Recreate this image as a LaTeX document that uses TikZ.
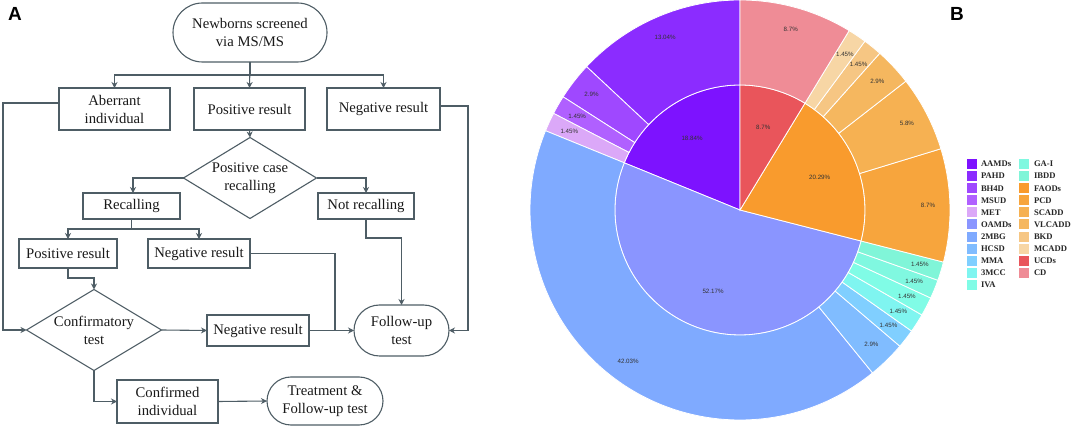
\documentclass[tikz,border=0pt]{standalone}
\usepackage{fontspec}
\setmainfont{Liberation Serif}
\newfontfamily\lsans{Liberation Sans}
\usetikzlibrary{shapes.geometric,shapes.misc,arrows.meta,calc}

\definecolor{ln}{HTML}{4E5D65}
\definecolor{cAAMD}{HTML}{7D12FF}
\definecolor{cPAHD}{HTML}{8B2CFF}
\definecolor{cBHD}{HTML}{9F48FF}
\definecolor{cMSUD}{HTML}{B060FF}
\definecolor{cMET}{HTML}{DBA8F8}
\definecolor{cOAMD}{HTML}{8A95FF}
\definecolor{cTMBG}{HTML}{7FAAFF}
\definecolor{cHCSD}{HTML}{80BCFF}
\definecolor{cMMA}{HTML}{80CFFF}
\definecolor{cTMCC}{HTML}{7FF5F0}
\definecolor{cIVA}{HTML}{80FCE6}
\definecolor{cGAI}{HTML}{80F8E0}
\definecolor{cIBDD}{HTML}{80F5D8}
\definecolor{cFAOD}{HTML}{F99B2D}
\definecolor{cPCD}{HTML}{F7A53D}
\definecolor{cSCADD}{HTML}{F6B152}
\definecolor{cVLCADD}{HTML}{F5B75F}
\definecolor{cBKD}{HTML}{F6C683}
\definecolor{cMCADD}{HTML}{F7D6A5}
\definecolor{cUCD}{HTML}{E9555B}
\definecolor{cCD}{HTML}{EF8C96}

\begin{document}
\begin{tikzpicture}[x=1pt,y=-1pt,
  every node/.style={inner sep=0pt, outer sep=0pt},
  fc/.style={draw=ln, line width=1.1pt, font=\fontsize{14.7}{18}\selectfont, align=center, text=black!90},
  box/.style={fc, rectangle},
  term/.style={fc, rounded rectangle},
  dec/.style={draw=ln, line width=1.1pt, diamond},
  dectext/.style={font=\fontsize{14.7}{18}\selectfont, align=center, text=black!90},
  conn/.style={draw=ln, line width=1.1pt},
  arr/.style={conn, -{Stealth[length=6pt,width=6pt]}},
  pct/.style={font=\lsans\fontsize{6.2}{7}\selectfont, text=black!80},
  leg/.style={font=\bfseries\fontsize{8.6}{10}\selectfont, anchor=west, text=black!85},
  sw/.style={minimum width=10, minimum height=10},
  panel/.style={font=\lsans\bfseries\fontsize{19}{19}\selectfont}
]
\useasboundingbox (0,0) rectangle (1072,427);

% ---------- Panel A: flowchart ----------
\node[panel] (labA) at (15,14) {A};

\node[term, minimum width=154, minimum height=59] (start) at (250,32.5) {Newborns screened\\via MS/MS};
\node[box, minimum width=111, minimum height=42] (aber) at (114.5,109) {Aberrant\\individual};
\node[box, minimum width=111, minimum height=42] (pos1) at (249.5,109) {Positive result};
\node[box, minimum width=113, minimum height=42] (neg1) at (383.5,109) {Negative result};
\node[dec, minimum width=133, minimum height=81] (dia1) at (250,178) {};
\node[dectext] (dia1t) at (dia1) {Positive case\\recalling};
\node[box, minimum width=97, minimum height=26] (rec) at (131.5,206) {Recalling};
\node[box, minimum width=96, minimum height=26] (notrec) at (366,206) {Not recalling};
\node[box, minimum width=98, minimum height=29] (pos2) at (68,253.5) {Positive result};
\node[box, minimum width=102, minimum height=29] (neg2) at (199,253.5) {Negative result};
\node[dec, minimum width=135, minimum height=81] (conf) at (94,330) {};
\node[dectext] (conft) at (conf) {Confirmatory\\test};
\node[box, minimum width=102, minimum height=31] (neg3) at (258,330.5) {Negative result};
\node[term, minimum width=95, minimum height=51] (follow) at (401.5,330.5) {Follow-up\\test};
\node[box, minimum width=101, minimum height=43] (confd) at (167.5,401.5) {Confirmed\\individual};
\node[term, minimum width=116, minimum height=48] (treat) at (325,401) {Treatment \&\\Follow-up test};

\draw[arr] (start.south) -- (pos1.north);
\draw[arr] (start.south) -- ++(0,13) -| (aber.north);
\draw[arr] (start.south) -- ++(0,13) -| (neg1.north);
\draw[arr] ([yshift=6pt]aber.west) -- ++(-56,0) |- (conf.west);
\draw[arr] ([yshift=3pt]neg1.east) -- ++(28,0) |- (follow.east);
\draw[arr] (pos1.south) -- (dia1.north);
\draw[arr] (dia1.west) -| ([xshift=1.5pt]rec.north);
\draw[arr] (dia1.east) -| (notrec.north);
\draw[arr] (rec.south) -- ++(0,10) -| (pos2.north);
\draw[arr] (rec.south) -- ++(0,10) -| (neg2.north);
\draw[arr] (pos2.south) -- ++(0,10) -| (conf.north);
\draw[arr] (conf.east) -- (neg3.west);
\draw[arr] (neg3.east) -- (follow.west);
\coordinate (j1) at (335,330.5);
\draw[conn] (neg2.east) -| (j1);
\draw[arr] (notrec.south) -- ++(0,19) -| (follow.north);
\draw[arr] (conf.south) |- (confd.west);
\draw[arr] (confd.east) -- (treat.west);

% ---------- Panel B: sunburst ----------
\node[panel] (labB) at (957,14) {B};

\begin{scope}[shift={(740,210)}, yscale=-1]
  \foreach \a/\b/\c in {90/157.824/cAAMD, 157.824/345.636/cOAMD, 345.636/418.68/cFAOD, 418.68/450/cUCD}
    \filldraw[fill=\c, draw=white, line width=0.8pt] (0,0) -- (\a:125) arc[start angle=\a, end angle=\b, radius=125] -- cycle;
  \foreach \a/\b/\c in {90/136.944/cPAHD, 136.944/147.384/cBHD, 147.384/152.604/cMSUD, 152.604/157.824/cMET,
      157.824/309.132/cTMBG, 309.132/319.572/cHCSD, 319.572/324.792/cMMA, 324.792/330.012/cTMCC,
      330.012/335.232/cIVA, 335.232/340.452/cGAI, 340.452/345.636/cIBDD,
      345.636/376.956/cPCD, 376.956/397.836/cSCADD, 397.836/408.276/cVLCADD, 408.276/413.496/cBKD,
      413.496/418.68/cMCADD, 418.68/450/cCD}
    \filldraw[fill=\c, draw=white, line width=0.8pt] (\a:125) arc[start angle=\a, end angle=\b, radius=125] -- (\b:210) arc[start angle=\b, end angle=\a, radius=210] -- cycle;
  \foreach \m/\p [count=\k] in {113.472/13.04, 142.164/2.9, 149.994/1.45, 155.214/1.45, 233.478/42.03,
      314.352/2.9, 322.182/1.45, 327.402/1.45, 332.622/1.45, 337.842/1.45, 343.044/1.45,
      361.296/8.7, 387.396/5.8, 403.056/2.9, 410.886/1.45, 416.088/1.45, 434.34/8.7}
    \node[pct] (po\k) at (\m:188) {\p\%};
  \foreach \m/\p [count=\k] in {123.912/18.84, 251.73/52.17, 382.158/20.29, 434.34/8.7}
    \node[pct] (pi\k) at (\m:86) {\p\%};
\end{scope}

% legend
\foreach \n/\c [count=\i from 0] in {AAMDs/cAAMD, PAHD/cPAHD, BH4D/cBHD, MSUD/cMSUD, MET/cMET, OAMDs/cOAMD,
    2MBG/cTMBG, HCSD/cHCSD, MMA/cMMA, 3MCC/cTMCC, IVA/cIVA} {
  \node[sw, fill=\c] (sa\i) at (972,164+12.1*\i) {};
  \node[leg] (ta\i) at (981,164+12.1*\i) {\n};
}
\foreach \n/\c [count=\i from 0] in {GA-I/cGAI, IBDD/cIBDD, FAODs/cFAOD, PCD/cPCD, SCADD/cSCADD,
    VLCADD/cVLCADD, BKD/cBKD, MCADD/cMCADD, UCDs/cUCD, CD/cCD} {
  \node[sw, fill=\c] (sb\i) at (1024,164+12.1*\i) {};
  \node[leg] (tb\i) at (1034,164+12.1*\i) {\n};
}
\end{tikzpicture}
\end{document}
